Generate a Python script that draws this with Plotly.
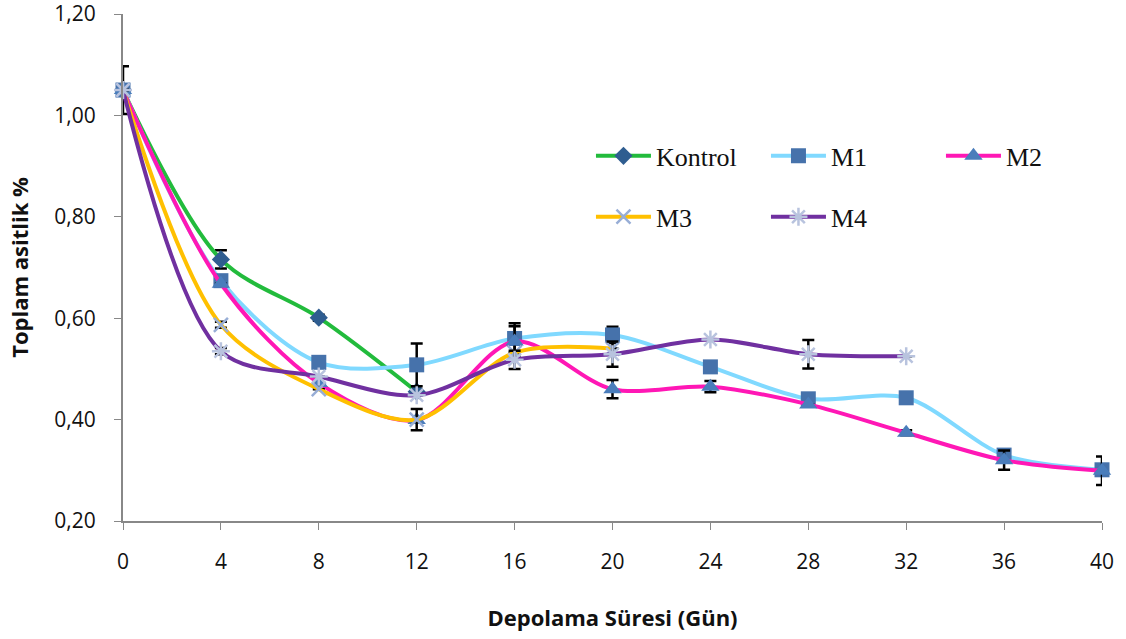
import plotly.graph_objects as go

# Storage time (days)
days = [0, 4, 8, 12, 16, 20, 24, 28, 32, 36, 40]

# Total acidity (%) per treatment
kontrol = [1.05, 0.716, 0.601, 0.455]
m1 = [1.05, 0.674, 0.513, 0.508, 0.560, 0.567, 0.504, 0.441, 0.443, 0.330, 0.301]
m2 = [1.05, 0.668, 0.472, 0.399, 0.554, 0.460, 0.465, 0.430, 0.374, 0.320, 0.299]
m3 = [1.05, 0.587, 0.460, 0.400, 0.532, 0.540]
m4 = [1.05, 0.535, 0.485, 0.448, 0.518, 0.529, 0.558, 0.529, 0.525]

# Standard deviations (None = not shown)
kontrol_sd = [0.047, 0.018, 0.006, None]
m1_sd = [None, None, None, 0.042, 0.030, 0.016, None, None, 0.005, None, 0.006]
m2_sd = [None, None, None, None, 0.030, 0.018, 0.011, None, 0.005, 0.019, 0.028]
m3_sd = [None, 0.006, None, 0.021, None, None]
m4_sd = [None, 0.006, None, None, 0.018, 0.025, None, 0.028, None]

y_ticks = [0.2, 0.4, 0.6, 0.8, 1.0, 1.2]

series = [
    ("Kontrol", kontrol, kontrol_sd, "#22BB3C", "diamond", "#2F5D90", 14, "legend"),
    ("M1", m1, m1_sd, "#80D9FF", "square", "#4672AB", 15, "legend"),
    ("M2", m2, m2_sd, "#FF17B5", "triangle-up", "#4A7DBB", 16, "legend"),
    ("M3", m3, m3_sd, "#FFC000", "x-thin-open", "#98AED6", 14, "legend2"),
    ("M4", m4, m4_sd, "#7030A0", "asterisk-open", "#B8C3DE", 15, "legend2"),
]

fig = go.Figure()
for name, vals, sd, lc, sym, mc, ms, leg in series:
    open_sym = sym.endswith("open")
    fig.add_trace(go.Scatter(
        x=days[:len(vals)], y=vals, name=name, legend=leg,
        mode="lines+markers", cliponaxis=False,
        line=dict(color=lc, width=4, shape="spline", smoothing=0.9),
        marker=dict(symbol=sym, size=ms, color=mc,
                    line=dict(color=mc, width=2.5 if open_sym else 0)),
        error_y=dict(type="data", array=sd, visible=True,
                     color="black", thickness=2.5, width=6),
    ))

tick_font = dict(family="Open Sans", size=21, color="#111111")
title_font = dict(family="Open Sans", size=22, color="#111111")
legend_font = dict(family="Liberation Serif", size=26, color="#111111")

fig.update_layout(
    width=1126, height=639,
    margin=dict(l=123, r=24, t=14, b=118, autoexpand=False),
    paper_bgcolor="white", plot_bgcolor="white",
    separators=", ",
    xaxis=dict(
        range=[0, 40], tickvals=days, ticks="outside", ticklen=7,
        tickcolor="#888888", showline=True, linecolor="#888888", linewidth=2,
        showgrid=False, zeroline=False, tickfont=tick_font,
        ticklabelstandoff=14, ticklabeloverflow="allow",
        title=dict(text="<b>Depolama Süresi (Gün)</b>", font=title_font, standoff=36),
    ),
    yaxis=dict(
        range=[0.2, 1.2], tickvals=y_ticks, tickformat=".2f",
        ticks="outside", ticklen=7, tickcolor="#888888",
        showline=True, linecolor="#888888", linewidth=2,
        showgrid=False, zeroline=False, tickfont=tick_font,
        ticklabelstandoff=14, ticklabeloverflow="allow",
        title=dict(text="<b>Toplam asitlik %</b>", font=title_font, standoff=20),
    ),
    legend=dict(orientation="h", x=0.478, y=0.720, xanchor="left", yanchor="middle",
                entrywidth=105, itemwidth=55, font=legend_font,
                bgcolor="rgba(0,0,0,0)", traceorder="normal"),
    legend2=dict(orientation="h", x=0.478, y=0.600, xanchor="left", yanchor="middle",
                 entrywidth=105, itemwidth=55, font=legend_font,
                 bgcolor="rgba(0,0,0,0)", traceorder="normal"),
)

fig.write_html("out.html")
